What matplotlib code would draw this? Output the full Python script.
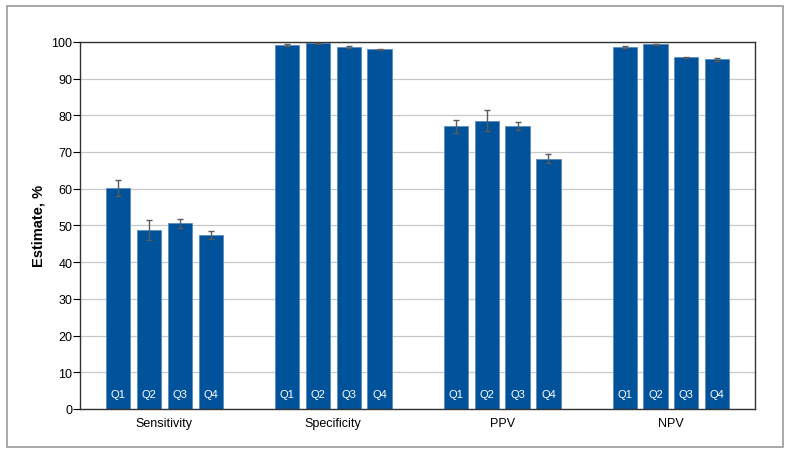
import numpy as np
import matplotlib.pyplot as plt
from matplotlib.patches import Rectangle

plt.rcParams['font.family'] = ['Liberation Sans', 'DejaVu Sans']

# Metrics and quartiles
metrics = ['Sensitivity', 'Specificity', 'PPV', 'NPV']
quartiles = ['Q1', 'Q2', 'Q3', 'Q4']

# Estimates, % (rows: metric, cols: quartile)
estimates = np.array([
    [60.2, 48.8, 50.7, 47.4],
    [99.2, 99.6, 98.6, 98.0],
    [77.0, 78.5, 77.2, 68.1],
    [98.6, 99.3, 95.8, 95.2],
])
# 95% CI bounds
ci_low = np.array([
    [58.0, 46.1, 49.4, 46.3],
    [98.9, 99.4, 98.4, 97.9],
    [75.1, 75.7, 76.0, 67.0],
    [98.4, 99.1, 95.6, 94.9],
])
ci_high = np.array([
    [62.4, 51.5, 51.8, 48.5],
    [99.5, 99.8, 98.8, 98.1],
    [78.7, 81.4, 78.2, 69.4],
    [98.8, 99.5, 96.0, 95.5],
])

blue = '#00529b'
step = 0.183
width = 0.143

fig = plt.figure(figsize=(7.91, 4.56), dpi=100)
ax = fig.add_axes([0.101, 0.101, 0.854, 0.805])

x = np.arange(len(metrics))
for j, q in enumerate(quartiles):
    pos = x + (j - 1.5) * step
    vals = estimates[:, j]
    err = [vals - ci_low[:, j], ci_high[:, j] - vals]
    ax.bar(pos, vals, width, color=blue, edgecolor='#5a8cc0', linewidth=0.6,
           zorder=2)
    ax.errorbar(pos, vals, yerr=err, fmt='none', ecolor='#5a5a5a',
                elinewidth=1.0, capsize=2.2, capthick=1.0, zorder=3)
    for p in pos:
        ax.text(p, 4, q, color='white', fontsize=8, ha='center', va='center',
                zorder=4)

ax.set_xlim(-0.5, 3.5)
ax.set_ylim(0, 100)
ax.set_yticks(np.arange(0, 101, 10))
ax.set_xticks(x)
ax.set_xticklabels(metrics, fontsize=9)
ax.tick_params(axis='x', length=0, pad=6)
ax.tick_params(axis='y', length=5, width=0.8, labelsize=9, pad=0.5,
               direction='out')
ax.yaxis.grid(True, color='#c8c8c8', linewidth=0.9, zorder=0)
ax.set_axisbelow(True)
for s in ax.spines.values():
    s.set_color('#333333')
    s.set_linewidth(1.0)
ax.set_ylabel('Estimate, %', fontsize=10.5, fontweight='bold', labelpad=4)

# outer frame
fig.patches.append(Rectangle((7 / 791, 8 / 456), 776 / 791, 441 / 456,
                             transform=fig.transFigure, fill=False,
                             edgecolor='#999999', linewidth=1.2))

fig.savefig('out.png', dpi=100)
